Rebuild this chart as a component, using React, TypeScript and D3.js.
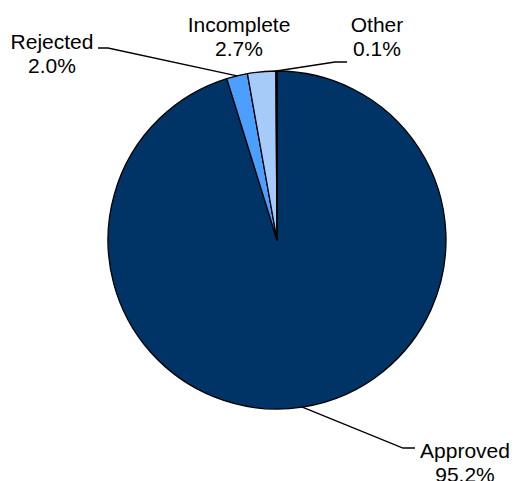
import React from "react";
import * as d3 from "d3";

const categories = ["Approved", "Rejected", "Incomplete", "Other"];
const values = [95.2, 2.0, 2.7, 0.1];
const colors = ["#003366", "#4d9fff", "#a6cbf9", "#1a1a1a"];
const valueLabels = ["95.2%", "2.0%", "2.7%", "0.1%"];

const labelLayout: any[] = [
  { cx: 465, by: 458, elbowX: 403, elbowY: 448, endX: 415, leader: true },
  { cx: 52, by: 49, elbowX: 108, elbowY: 48, endX: 98, leader: true },
  { cx: 239, by: 32, leader: false },
  { cx: 377, by: 32, elbowX: 335, elbowY: 62, endX: 347, leader: true },
];

const W = 516;
const H = 481;
const CX = 277;
const CY = 240;
const R = 169;

export default function App() {
  const pie = d3.pie<number>().sort(null).value((d) => d)(values);
  const arc = d3.arc<any>().innerRadius(0).outerRadius(R);
  const font = "'Liberation Sans', Arial, sans-serif";
  return (
    <svg width={W} height={H} style={{ position: "absolute", left: 0, top: 0, background: "#fff" }}>
      <g transform={`translate(${CX},${CY})`}>
        {pie.map((p, i) => (
          <path key={i} d={arc(p) as string} fill={colors[i]} stroke="#000" strokeWidth={1.3} strokeLinejoin="round" />
        ))}
      </g>
      {pie.map((p, i) => {
        const L = labelLayout[i];
        const mid = (p.startAngle + p.endAngle) / 2;
        const ex = CX + R * Math.sin(mid);
        const ey = CY - R * Math.cos(mid);
        return (
          <g key={"l" + i}>
            {L.leader && (
              <polyline
                points={`${ex},${ey} ${L.elbowX},${L.elbowY} ${L.endX},${L.elbowY}`}
                fill="none"
                stroke="#000"
                strokeWidth={1.3}
              />
            )}
            <text x={L.cx} y={L.by} textAnchor="middle" fontFamily={font} fontSize={21} fill="#000">
              {categories[i]}
            </text>
            <text x={L.cx} y={L.by + 23.5} textAnchor="middle" fontFamily={font} fontSize={21} fill="#000">
              {valueLabels[i]}
            </text>
          </g>
        );
      })}
    </svg>
  );
}
